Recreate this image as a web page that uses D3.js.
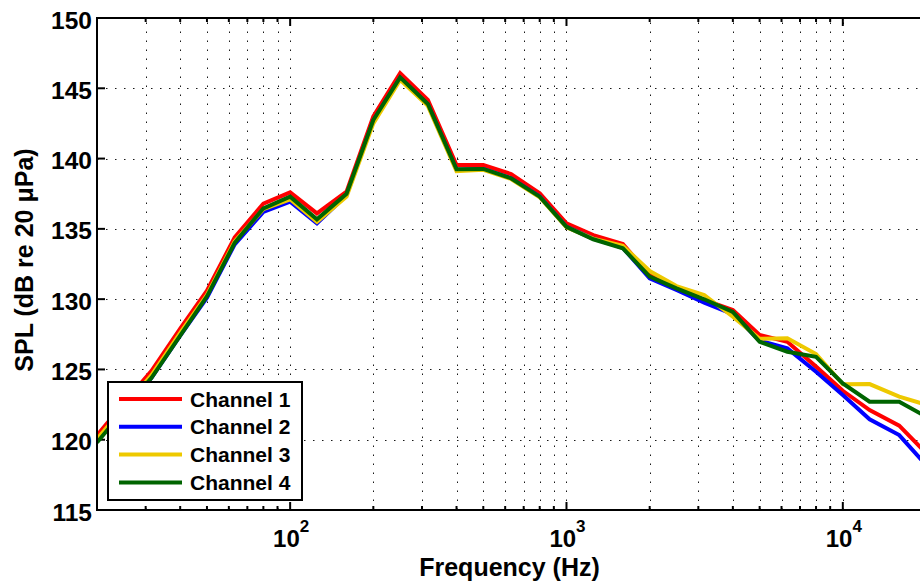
<!DOCTYPE html>
<html>
<head>
<meta charset="utf-8">
<script src="https://cdn.jsdelivr.net/npm/d3@7"></script>
<style>
  html, body { margin: 0; padding: 0; background: #fff; }
  svg { display: block; font-family: "Liberation Sans", Arial, Helvetica, sans-serif; font-weight: bold; }
</style>
</head>
<body>
<svg id="chart" width="920" height="583"></svg>
<script>
const freqs = [20,25,31.5,40,50,63,80,100,125,160,200,250,315,400,500,630,800,1000,1250,1600,2000,2500,3150,4000,5000,6300,8000,10000,12500,16000,20000];
const channel1 = [120.3,122.6,124.9,127.9,130.6,134.4,136.8,137.6,136.1,137.65,143.0,146.07,144.17,139.54,139.54,138.9,137.53,135.4,134.56,133.92,131.72,130.82,129.94,129.23,127.45,126.97,125.2,123.48,122.11,121.0,119.06];
const channel2 = [119.9,122.2,124.4,127.4,130.1,133.9,136.2,136.93,135.4,137.4,142.7,145.75,143.85,139.2,139.25,138.6,137.3,135.15,134.3,133.65,131.48,130.65,129.75,128.94,127.05,126.5,124.84,123.18,121.45,120.33,118.2];
const channel3 = [120.05,122.3,124.6,127.6,130.3,134.1,136.4,137.1,135.5,137.3,142.5,145.6,143.75,139.1,139.2,138.55,137.25,135.1,134.3,133.8,132.0,130.93,130.3,128.75,127.18,127.21,126.1,123.94,123.96,123.06,122.5];
const channel4 = [119.8,122.1,124.4,127.4,130.2,134.0,136.46,137.29,135.68,137.5,142.74,145.78,143.88,139.24,139.26,138.6,137.29,135.15,134.26,133.62,131.6,130.77,129.99,129.1,126.97,126.26,125.9,124.0,122.7,122.7,121.64];
const seriesNames = ["Channel 1","Channel 2","Channel 3","Channel 4"];
const seriesColors = ["#ff0000","#0000ff","#eec900","#006400"];
const yTicks = [115,120,125,130,135,140,145,150];
const xMajorTicks = [100,1000,10000];
const xMajorExp = ["2","3","4"];

const svg = d3.select("#chart");
const L = 97, R = 926, T = 18, B = 510;
const x = d3.scaleLog().domain([20,20000]).range([L,R]);
const y = d3.scaleLinear().domain([115,150]).range([B,T]);

const minor = [];
for (let d = 10; d <= 10000; d *= 10) {
  for (let k = 1; k <= 9; k++) {
    const v = d * k;
    if (v >= 20 && v <= 20000) minor.push(v);
  }
}

const grid = svg.append("g").attr("stroke","#000").attr("stroke-width",1).attr("stroke-dasharray","1.5,7.5").attr("opacity",0.9);
grid.selectAll("line.vx").data(minor.filter(v => v > 20 && v < 20000)).enter().append("line")
  .attr("x1", d => Math.round(x(d)) + 0.5).attr("x2", d => Math.round(x(d)) + 0.5)
  .attr("y1", B).attr("y2", T);
grid.selectAll("line.hy").data(yTicks.filter(v => v > 115 && v < 150)).enter().append("line")
  .attr("y1", d => Math.round(y(d)) + 0.5).attr("y2", d => Math.round(y(d)) + 0.5)
  .attr("x1", L).attr("x2", R);

const ticks = svg.append("g").attr("stroke","#000").attr("stroke-width",2);
const isMajor = v => xMajorTicks.includes(v);
ticks.selectAll("line.bt").data(minor).enter().append("line")
  .attr("x1", d => x(d)).attr("x2", d => x(d))
  .attr("y1", B).attr("y2", d => B - (isMajor(d) ? 8 : 4));
ticks.selectAll("line.tt").data(minor).enter().append("line")
  .attr("x1", d => x(d)).attr("x2", d => x(d))
  .attr("y1", T).attr("y2", d => T + (isMajor(d) ? 8 : 4));
ticks.selectAll("line.lt").data(yTicks).enter().append("line")
  .attr("x1", L).attr("x2", L + 8)
  .attr("y1", d => y(d)).attr("y2", d => y(d));

svg.append("clipPath").attr("id","plotclip").append("rect")
  .attr("x", L).attr("y", T).attr("width", R - L).attr("height", B - T);
const allSeries = [channel1, channel2, channel3, channel4];
const line = d3.line().x((d,i) => x(freqs[i])).y(d => y(d));
svg.append("g").attr("clip-path","url(#plotclip)")
  .selectAll("path").data(allSeries).enter().append("path")
  .attr("d", d => line(d))
  .attr("fill","none")
  .attr("stroke", (d,i) => seriesColors[i])
  .attr("stroke-width", 4)
  .attr("stroke-linejoin","miter");

svg.append("line").attr("x1", L).attr("x2", L).attr("y1", T - 1).attr("y2", B + 1).attr("stroke","#000").attr("stroke-width",2);
svg.append("line").attr("x1", L - 1).attr("x2", R).attr("y1", B).attr("y2", B).attr("stroke","#000").attr("stroke-width",2);
svg.append("line").attr("x1", L - 1).attr("x2", R).attr("y1", T).attr("y2", T).attr("stroke","#000").attr("stroke-width",2);

svg.append("g").selectAll("text").data(yTicks).enter().append("text")
  .attr("x", 92).attr("y", d => y(d) + 10.5)
  .attr("text-anchor","end").attr("font-size", 24.5).attr("fill","#000")
  .text(d => d);

const xl = svg.append("g").selectAll("text").data(xMajorTicks).enter().append("text")
  .attr("x", d => x(d) + 1).attr("y", 547)
  .attr("text-anchor","middle").attr("font-size", 24).attr("fill","#000");
xl.append("tspan").text("10");
xl.append("tspan").attr("font-size", 17).attr("dy", -15).text((d,i) => xMajorExp[i]);

svg.append("text").attr("x", (418 + 601) / 2).attr("y", 576)
  .attr("text-anchor","middle").attr("font-size", 25).attr("fill","#000")
  .text("Frequency (Hz)");
svg.append("text").attr("transform","translate(33,260) rotate(-90)")
  .attr("text-anchor","middle").attr("font-size", 25).attr("fill","#000")
  .text("SPL (dB re 20 \u03bcPa)");

const lg = svg.append("g");
lg.append("rect").attr("x", 108).attr("y", 382).attr("width", 194).attr("height", 118)
  .attr("fill","#fff").attr("stroke","#000").attr("stroke-width",2);
const rows = lg.selectAll("g.row").data(seriesNames).enter().append("g");
rows.append("line").attr("x1", 119).attr("x2", 182)
  .attr("y1", (d,i) => 399 + i * 27.8).attr("y2", (d,i) => 399 + i * 27.8)
  .attr("stroke", (d,i) => seriesColors[i]).attr("stroke-width", 4);
rows.append("text").attr("x", 190).attr("y", (d,i) => 406.5 + i * 27.8)
  .attr("font-size", 21).attr("fill","#000").text(d => d);
</script>
</body>
</html>
